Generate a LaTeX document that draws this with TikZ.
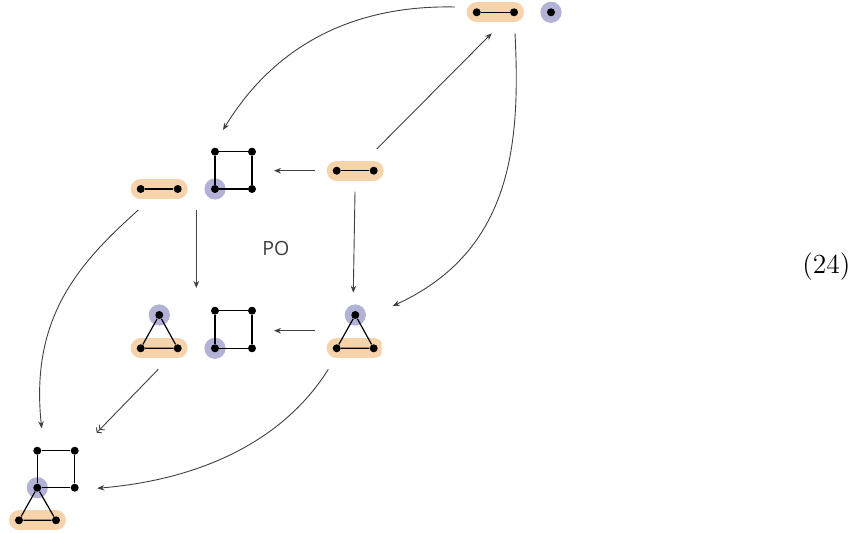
\documentclass[tikz,border=0pt]{standalone}
\usepackage{fontspec}
\newfontfamily\posans{Open Sans}
\usetikzlibrary{arrows.meta,backgrounds}
\definecolor{peach}{RGB}{247,211,172}
\definecolor{halocol}{RGB}{178,178,214}
\definecolor{arr}{RGB}{64,64,64}
\tikzset{
 dot/.style={circle,fill=black,inner sep=0pt,minimum size=4pt},
 gedge/.style={black,line width=0.6pt},
 pill/.style={peach,line width=10pt,line cap=round},
 halo/.style={fill=halocol},
 arrowline/.style={draw=arr,line width=0.45pt,-{Stealth[length=3.5pt,width=2.8pt]}},
 epiline/.style={draw=arr,line width=0.45pt,-{Straight Barb[length=1.5pt,width=3.8pt]Straight Barb[length=1.5pt,width=3.8pt]}},
}
\begin{document}
\begin{tikzpicture}[x=0.5pt,y=-0.5pt]
\useasboundingbox (0,0) rectangle (862,533);
% ---- dots
\node[dot] (t1) at (476.7,12.3) {};
\node[dot] (t2) at (514,12.3) {};
\node[dot] (t3) at (551,12.3) {};
\node[dot] (a1) at (336.7,170.7) {};
\node[dot] (a2) at (373.7,170.7) {};
\node[dot] (b1) at (140.7,189) {};
\node[dot] (b2) at (177.7,189) {};
\node[dot] (s1) at (215,151.7) {};
\node[dot] (s2) at (252,151.7) {};
\node[dot] (s3) at (215,189) {};
\node[dot] (s4) at (252,189) {};
\node[dot] (m1) at (159.3,315) {};
\node[dot] (m2) at (140.7,348.3) {};
\node[dot] (m3) at (177.7,348.3) {};
\node[dot] (q1) at (215,310.7) {};
\node[dot] (q2) at (252,310.7) {};
\node[dot] (q3) at (215,348.3) {};
\node[dot] (q4) at (252,348.3) {};
\node[dot] (c1) at (355.3,315) {};
\node[dot] (c2) at (336.7,348.3) {};
\node[dot] (c3) at (373.7,348.3) {};
\node[dot] (d1) at (37.3,450.7) {};
\node[dot] (d2) at (74.7,450.7) {};
\node[dot] (d3) at (37.3,487.7) {};
\node[dot] (d4) at (74.7,487.7) {};
\node[dot] (d5) at (19,520.3) {};
\node[dot] (d6) at (56,520.3) {};
% ---- highlights
\begin{scope}[on background layer]
 \draw[pill] (t1.center) -- (t2.center);
 \fill[halo] (t3) circle (5.3pt);
 \draw[pill] (a1.center) -- (a2.center);
 \draw[pill] (b1.center) -- (b2.center);
 \fill[halo] (s3) circle (5.3pt);
 \draw[pill] (m2.center) -- (m3.center);
 \fill[halo] (m1) circle (5.3pt);
 \fill[halo] (q3) circle (5.3pt);
 \begin{scope}
  \clip (0,0) rectangle (381.7,533);
  \draw[pill] (c2.center) -- (c3.center);
 \end{scope}
 \fill[halo] (c1) circle (5.3pt);
 \draw[pill] (d5.center) -- (d6.center);
 \fill[halo] (d3) circle (5.3pt);
\end{scope}
% ---- graph edges
\draw[gedge] (t1) -- (t2);
\draw[gedge] (a1) -- (a2);
\draw[gedge] (b1) -- (b2);
\draw[gedge] (s1) -- (s2) -- (s4) -- (s3) -- (s1);
\draw[gedge] (m1) -- (m2) -- (m3) -- (m1);
\draw[gedge] (q1) -- (q2) -- (q4) -- (q3) -- (q1);
\draw[gedge] (c1) -- (c2) -- (c3) -- (c1);
\draw[gedge] (d1) -- (d2) -- (d4) -- (d3) -- (d1);
\draw[gedge] (d3) -- (d5) -- (d6) -- (d3);
% ---- connector end points
\coordinate (tBs) at (455,7);        \coordinate (tBe) at (223,130);
\coordinate (tCs) at (515,33.3);     \coordinate (tCe) at (392.7,306);
\coordinate (aTs) at (376.7,149);    \coordinate (aTe) at (491.7,33.3);
\coordinate (aSs) at (315,170.7);    \coordinate (aSe) at (274,170.7);
\coordinate (aCs) at (355,191.7);    \coordinate (aCe) at (353.3,292.7);
\coordinate (bMs) at (196.3,210);    \coordinate (bMe) at (196.3,288);
\coordinate (cQs) at (315,330.7);    \coordinate (cQe) at (274,330.7);
\coordinate (bDs) at (138.3,210);    \coordinate (bDe) at (41.7,428.3);
\coordinate (mDs) at (158.3,369.3);  \coordinate (mDe) at (96.7,432.7);
\coordinate (cDs) at (328.3,369.3);  \coordinate (cDe) at (97.3,488.3);
% ---- connectors
\draw[arrowline] (tBs) .. controls (360,5) and (278,40) .. (tBe);
\draw[arrowline] (tCs) .. controls (520.5,143.3) and (512.7,250.8) .. (tCe);
\draw[arrowline] (aTs) -- (aTe);
\draw[arrowline] (aSs) -- (aSe);
\draw[arrowline] (aCs) -- (aCe);
\draw[arrowline] (bMs) -- (bMe);
\draw[arrowline] (cQs) -- (cQe);
\draw[arrowline] (bDs) .. controls (78,264) and (30,318) .. (bDe);
\draw[epiline] (mDs) -- (mDe);
\draw[arrowline] (cDs) .. controls (286,437) and (207,479) .. (cDe);
% ---- labels
\node[inner sep=0pt,text=arr,font=\posans\fontsize{9.8}{12}\selectfont] (po) at (275.8,248.7) {PO};
\node[inner sep=0pt,font=\fontsize{13.8}{16}\selectfont] (eqno) at (826.3,266.5) {(24)};
\end{tikzpicture}
\end{document}
